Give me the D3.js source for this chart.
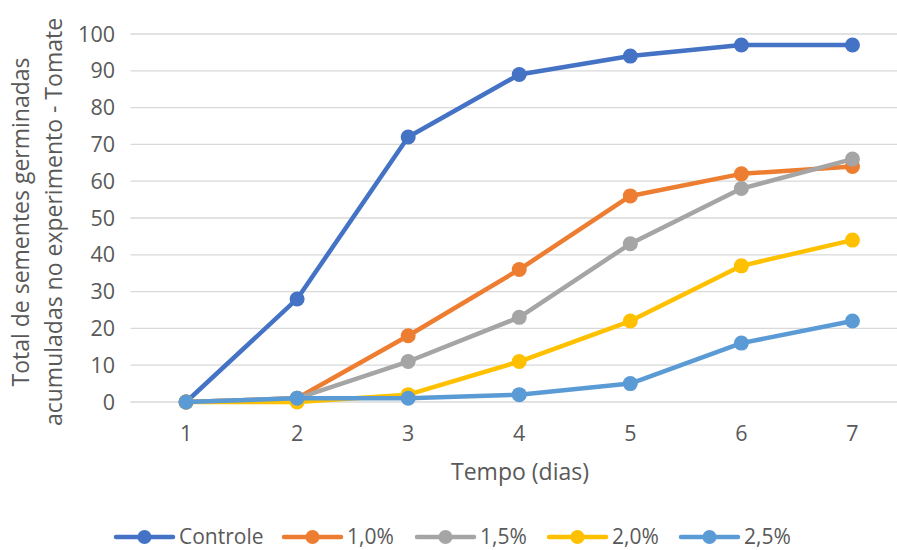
<!DOCTYPE html>
<html><head><meta charset="utf-8">
<script src="https://cdn.jsdelivr.net/npm/d3@7"></script>
<style>body{margin:0;background:#fff}svg{display:block}text{font-family:"Open Sans",sans-serif;fill:#595959}</style>
</head><body><svg id="c" width="897" height="550"></svg>
<script>
const days = ["1","2","3","4","5","6","7"];
const seriesNames = ["Controle","1,0%","1,5%","2,0%","2,5%"];
const controle = [0,28,72,89,94,97,97];
const s10 = [0,1,18,36,56,62,64];
const s15 = [0,1,11,23,43,58,66];
const s20 = [0,0,2,11,22,37,44];
const s25 = [0,1,1,2,5,16,22];
const yTicks = [0,10,20,30,40,50,60,70,80,90,100];
const colors = ["#4472C4","#ED7D31","#A5A5A5","#FFC000","#5B9BD5"];
const allSeries = [controle,s10,s15,s20,s25];

const svg = d3.select("#c");
const x = d3.scaleBand().domain(days).range([130.5,908]);
const y = d3.scaleLinear().domain([0,100]).range([402,34]);
const cx = d => x(d)+x.bandwidth()/2;

svg.append("g").selectAll("line").data(yTicks.filter(t=>t>0)).join("line")
  .attr("x1",130.5).attr("x2",897).attr("y1",d=>y(d)).attr("y2",d=>y(d))
  .attr("stroke","#d9d9d9").attr("stroke-width",1.3);
svg.append("line").attr("x1",130.5).attr("x2",897).attr("y1",y(0)).attr("y2",y(0))
  .attr("stroke","#d9d9d9").attr("stroke-width",1.3);

svg.append("g").selectAll("text").data(yTicks).join("text")
  .attr("x",115).attr("y",d=>y(d)).attr("dy","0.35em").attr("text-anchor","end")
  .attr("font-size",21.5).text(d=>d);
svg.append("g").selectAll("text").data(days).join("text")
  .attr("x",d=>cx(d)).attr("y",441).attr("text-anchor","middle")
  .attr("font-size",21.5).text(d=>d);

svg.append("text").attr("x",520).attr("y",480).attr("text-anchor","middle")
  .attr("font-size",23).text("Tempo (dias)");
const yt = svg.append("text").attr("transform","translate(0,222) rotate(-90)")
  .attr("text-anchor","middle").attr("font-size",23);
yt.append("tspan").attr("x",0).attr("y",29).text("Total de sementes germinadas");
yt.append("tspan").attr("x",0).attr("y",62).text("acumuladas no experimento - Tomate");

const line = d3.line().x((d,i)=>cx(days[i])).y(d=>y(d));
allSeries.forEach((s,k)=>{
  const g = svg.append("g");
  g.append("path").datum(s).attr("d",line).attr("fill","none")
    .attr("stroke",colors[k]).attr("stroke-width",4.5).attr("stroke-linejoin","round");
  g.selectAll("circle").data(s).join("circle")
    .attr("cx",(d,i)=>cx(days[i])).attr("cy",d=>y(d)).attr("r",7.5).attr("fill",colors[k]);
});

const legX = [116,284,417,549,681];
seriesNames.forEach((n,k)=>{
  const g = svg.append("g").attr("transform",`translate(${legX[k]},537)`);
  g.append("line").attr("x1",0).attr("x2",57).attr("y1",0).attr("y2",0)
    .attr("stroke",colors[k]).attr("stroke-width",4.5).attr("stroke-linecap","round");
  g.append("circle").attr("cx",28.5).attr("cy",0).attr("r",7).attr("fill",colors[k]);
  g.append("text").attr("x",63).attr("y",0).attr("dy","0.33em").attr("font-size",21).text(n);
});
</script></body></html>
